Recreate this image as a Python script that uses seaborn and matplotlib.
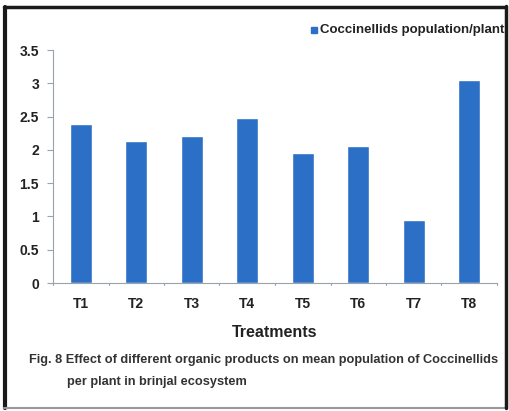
import matplotlib
matplotlib.use("Agg")
import matplotlib.pyplot as plt
import seaborn as sns
import pandas as pd
from matplotlib.patches import Rectangle
from matplotlib.lines import Line2D

treatments = ["T1", "T2", "T3", "T4", "T5", "T6", "T7", "T8"]
population = [2.39, 2.13, 2.21, 2.48, 1.96, 2.06, 0.94, 3.05]
yticks = [0, 0.5, 1, 1.5, 2, 2.5, 3, 3.5]
ytick_labels = ["0", "0.5", "1", "1.5", "2", "2.5", "3", "3.5"]

df = pd.DataFrame({"Treatment": treatments, "Population": population})

sns.set_style("white")
plt.rcParams["font.family"] = ["Liberation Sans", "DejaVu Sans"]

W, H = 510, 411
fig = plt.figure(figsize=(W / 100, H / 100), dpi=100)
ax = fig.add_axes([53 / W, 1 - 283 / H, 444 / W, 233 / H])

bar_color = "#2B6FC6"
sns.barplot(data=df, x="Treatment", y="Population", color=bar_color,
            width=0.4, ax=ax, saturation=1)

ax.set_xlim(-0.5, 7.5)
ax.set_ylim(0, 3.5)
ax.set_yticks(yticks)
ax.set_yticklabels(ytick_labels, fontsize=10, fontweight="bold", color="#222222")
ax.set_xticks(range(len(treatments)))
ax.set_xticklabels(treatments, fontsize=10, fontweight="bold", color="#222222")
ax.tick_params(axis="x", length=0, pad=10)
ax.tick_params(axis="y", length=4, width=0.8, color="#9aa3ad", pad=6, direction="out", left=True)

# category boundary ticks on the x axis
for b in [i + 0.5 for i in range(-1, 8)]:
    ax.plot([b, b], [0, -0.035], color="#9aa3ad", lw=0.8, clip_on=False)

for s in ["top", "right"]:
    ax.spines[s].set_visible(False)
ax.spines["left"].set_color("#9aa3ad")
ax.spines["bottom"].set_color("#9aa3ad")
ax.spines["left"].set_linewidth(0.8)
ax.spines["bottom"].set_linewidth(0.8)

ax.set_ylabel("")
ax.set_xlabel("Treatments", fontsize=11.5, fontweight="bold", labelpad=10, color="#222222")

# legend
fig.patches.append(Rectangle((311 / W, 1 - 33 / H), 6 / W, 6 / H,
                             transform=fig.transFigure, color=bar_color))
fig.text(320 / W, 1 - 30 / H, "Coccinellids population/plant", fontsize=9.5,
         fontweight="bold", va="center", ha="left", color="#222222")

# caption
fig.text(29 / W, 1 - 360 / H,
         "Fig. 8 Effect of different organic products on mean population of Coccinellids",
         fontsize=9.2, fontweight="bold", va="center", ha="left", color="#333333")
fig.text(67 / W, 1 - 382 / H, "per plant in brinjal ecosystem",
         fontsize=9.2, fontweight="bold", va="center", ha="left", color="#333333")

# frame
fig.add_artist(Line2D([5 / W, 5 / W], [1 - 7 / H, 1 - 408 / H], transform=fig.transFigure,
                      color="#1a1a1a", lw=3))
fig.add_artist(Line2D([4 / W, 507 / W], [1 - 7 / H, 1 - 7 / H], transform=fig.transFigure,
                      color="#1a1a1a", lw=2.5))
fig.add_artist(Line2D([4 / W, 507 / W], [1 - 408 / H, 1 - 408 / H], transform=fig.transFigure,
                      color="#9a9a9a", lw=1.5))
# white margin past the right edge of the frame
fig.patches.append(Rectangle((507 / W, 0), 3 / W, 1, transform=fig.transFigure,
                             color="white", zorder=10))
fig.add_artist(Line2D([506 / W, 506 / W], [1 - 6 / H, 1 - 408 / H], transform=fig.transFigure,
                      color="#1a1a1a", lw=2.5, zorder=11))

fig.savefig("out.png", dpi=100, facecolor="white")
